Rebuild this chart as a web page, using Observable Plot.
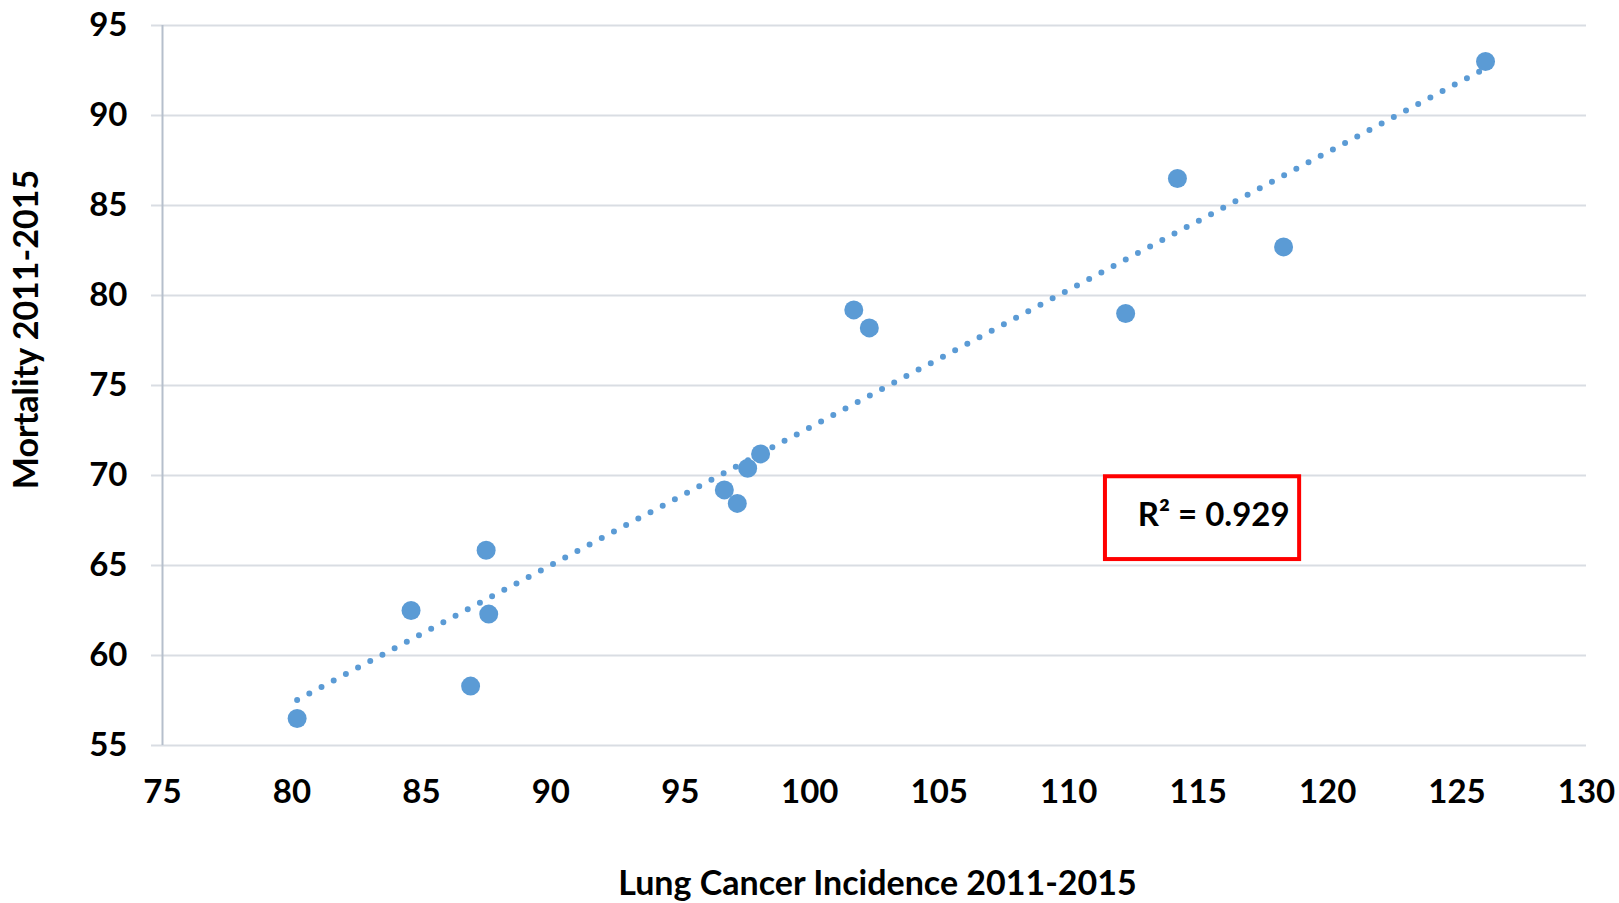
<!DOCTYPE html>
<html>
<head>
<meta charset="utf-8">
<script src="https://cdn.jsdelivr.net/npm/d3@7"></script>
<script src="https://cdn.jsdelivr.net/npm/@observablehq/plot@0.6"></script>
<style>
  html, body { margin: 0; padding: 0; background: #fff; overflow: hidden; }
</style>
</head>
<body>
<div id="chart"></div>
<script>
// Data
const incidence = [80.2, 84.6, 86.9, 87.5, 87.6, 96.7, 97.2, 97.6, 98.1, 101.7, 102.3, 112.2, 114.2, 118.3, 126.1];
const mortality = [56.5, 62.5, 58.3, 65.85, 62.3, 69.2, 68.45, 70.4, 71.2, 79.2, 78.2, 79.0, 86.5, 82.7, 93.0];

const xTicks = [75, 80, 85, 90, 95, 100, 105, 110, 115, 120, 125, 130];
const yTicks = [55, 60, 65, 70, 75, 80, 85, 90, 95];

const xTitle = "Lung Cancer Incidence 2011-2015";
const yTitle = "Mortality 2011-2015";

// Annotation (R² label) in data units
const r2Text = "R² = 0.929";
const r2Box = [{x1: 111.42, x2: 118.92, y1: 65.33, y2: 69.93}];
const r2Label = [{x: 115.6, y: 67.76, text: r2Text}];

const points = incidence.map((x, i) => ({x, y: mortality[i]}));

const blue = "#5b9bd5";
const grid = "#d9dde3";

const chart = Plot.plot({
  width: 1619,
  height: 903,
  marginLeft: 162,
  marginRight: 33,
  marginTop: 25,
  marginBottom: 158,
  style: {fontFamily: "Lato, sans-serif", fontSize: "33px", fontWeight: "bold", color: "#000", background: "#fff"},
  x: {domain: [75, 130]},
  y: {domain: [55, 95]},
  marks: [
    Plot.ruleY(yTicks, {stroke: grid, strokeWidth: 2}),
    Plot.axisY({ticks: yTicks, tickSize: 11, tickPadding: 24, stroke: grid, strokeWidth: 2, label: null, tickFormat: d => d}),
    Plot.axisX({ticks: xTicks, tickSize: 0, tickPadding: 34, label: null, tickFormat: d => d}),
    Plot.ruleX([75], {stroke: "#b6bfcc", strokeWidth: 2}),
    Plot.linearRegressionY(points, {x: "x", y: "y", ci: 0, stroke: blue, strokeWidth: 6, strokeDasharray: "0,13.8", strokeLinecap: "round"}),
    Plot.dot(points, {x: "x", y: "y", r: 9.5, fill: blue, stroke: null}),
    Plot.rect(r2Box, {x1: "x1", x2: "x2", y1: "y1", y2: "y2", fill: "#fff", stroke: "#ff0000", strokeWidth: 4}),
    Plot.text(r2Label, {x: "x", y: "y", text: "text", fill: "#000", fontSize: 33, fontWeight: "bold", lineAnchor: "middle"}),
    Plot.text([xTitle], {frameAnchor: "bottom", dx: 3, dy: 139, text: d => d, fontSize: 34, fontWeight: "bold", fill: "#000", textAnchor: "middle", lineAnchor: "middle"}),
    Plot.text([yTitle], {frameAnchor: "left", dx: -135, dy: -56, rotate: -90, text: d => d, fontSize: 34, fontWeight: "bold", fill: "#000", textAnchor: "middle", lineAnchor: "middle"})
  ]
});
document.getElementById("chart").appendChild(chart);
</script>
</body>
</html>
